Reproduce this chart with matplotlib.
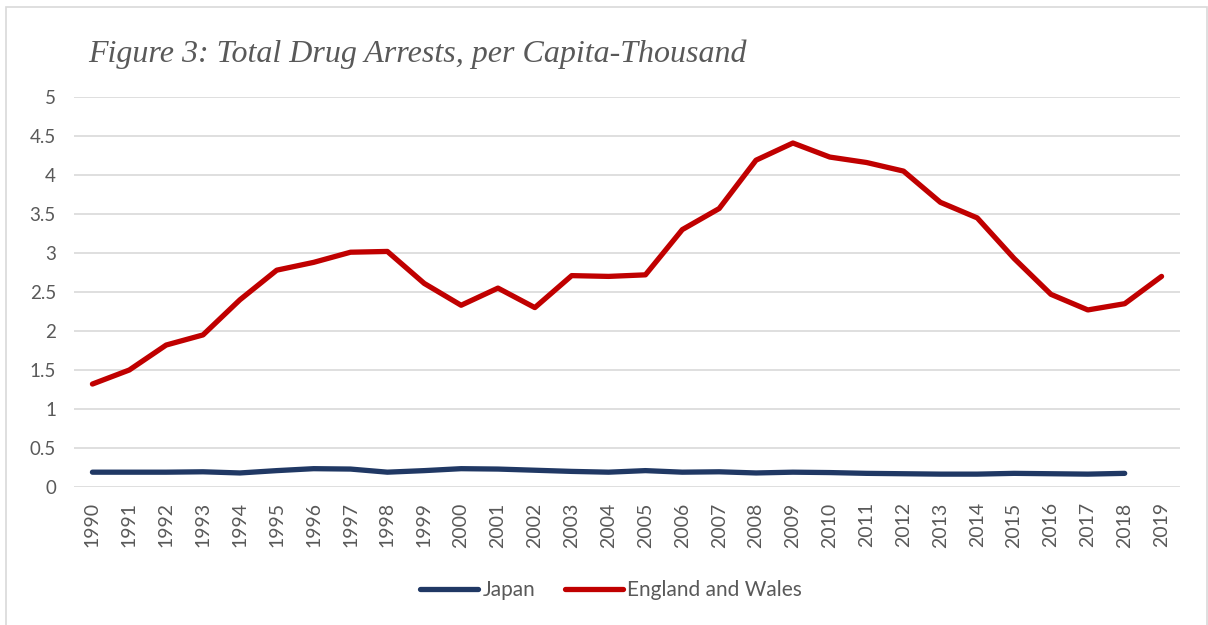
import matplotlib.pyplot as plt
from matplotlib.patches import Rectangle

years = list(range(1990, 2020))

# arrests per thousand people
england_wales = [1.32, 1.50, 1.82, 1.95, 2.40, 2.78, 2.88, 3.01, 3.02, 2.61,
                 2.33, 2.55, 2.30, 2.71, 2.70, 2.72, 3.30, 3.57, 4.19, 4.41,
                 4.23, 4.16, 4.05, 3.65, 3.45, 2.93, 2.47, 2.27, 2.35, 2.70]
japan = [0.19, 0.19, 0.19, 0.195, 0.18, 0.21, 0.235, 0.23, 0.19, 0.21,
         0.235, 0.23, 0.215, 0.20, 0.19, 0.21, 0.19, 0.195, 0.18, 0.19,
         0.185, 0.175, 0.17, 0.165, 0.165, 0.175, 0.17, 0.165, 0.175]

y_ticks = [0, 0.5, 1, 1.5, 2, 2.5, 3, 3.5, 4, 4.5, 5]
y_labels = ["0", "0.5", "1", "1.5", "2", "2.5", "3", "3.5", "4", "4.5", "5"]

W, H = 1208, 625
fig = plt.figure(figsize=(W / 100, H / 100), dpi=100)
ax = fig.add_axes([74 / W, 1 - 487 / H, (1180 - 74) / W, (487 - 97) / H])

# light frame round the chart
fig.patches.append(Rectangle((6 / W, -0.1), (1207 - 6) / W, 1.1 - 7 / H,
                             transform=fig.transFigure, fill=False,
                             edgecolor="#D9D9D9", linewidth=1.2))

ax.plot(years[:len(japan)], japan, color="#203864", linewidth=3.8,
        solid_capstyle="round", label="Japan")
ax.plot(years, england_wales, color="#C00000", linewidth=3.8,
        solid_capstyle="round", label="England and Wales")

ax.set_xlim(1989.5, 2019.5)
ax.set_ylim(0, 5)
ax.set_yticks(y_ticks)
ax.set_yticklabels(y_labels)
ax.set_xticks(years)
ax.set_xticklabels([str(y) for y in years], rotation=90)

ax.grid(axis="y", color="#D9D9D9", linewidth=1.2)
ax.set_axisbelow(True)
for s in ax.spines.values():
    s.set_visible(False)
ax.tick_params(axis="y", length=0, pad=13, labelsize=13.5, labelcolor="#595959")
ax.tick_params(axis="x", length=0, pad=11, labelsize=14, labelcolor="#595959")
for lab in ax.get_xticklabels() + ax.get_yticklabels():
    lab.set_family("Lato")

fig.text(88 / W, 1 - 54 / H, "Figure 3: Total Drug Arrests, per Capita-Thousand",
         family="Liberation Serif", style="italic", fontsize=23,
         color="#595959", va="center", ha="left")

leg = ax.legend(loc="center", bbox_to_anchor=(611 / W, 1 - 590 / H),
                bbox_transform=fig.transFigure, ncol=2, frameon=False,
                prop={"family": "Lato", "size": 15}, handlelength=2.8,
                handletextpad=0.2, columnspacing=1.4)
for t in leg.get_texts():
    t.set_color("#595959")

fig.savefig("out.png", dpi=100)
